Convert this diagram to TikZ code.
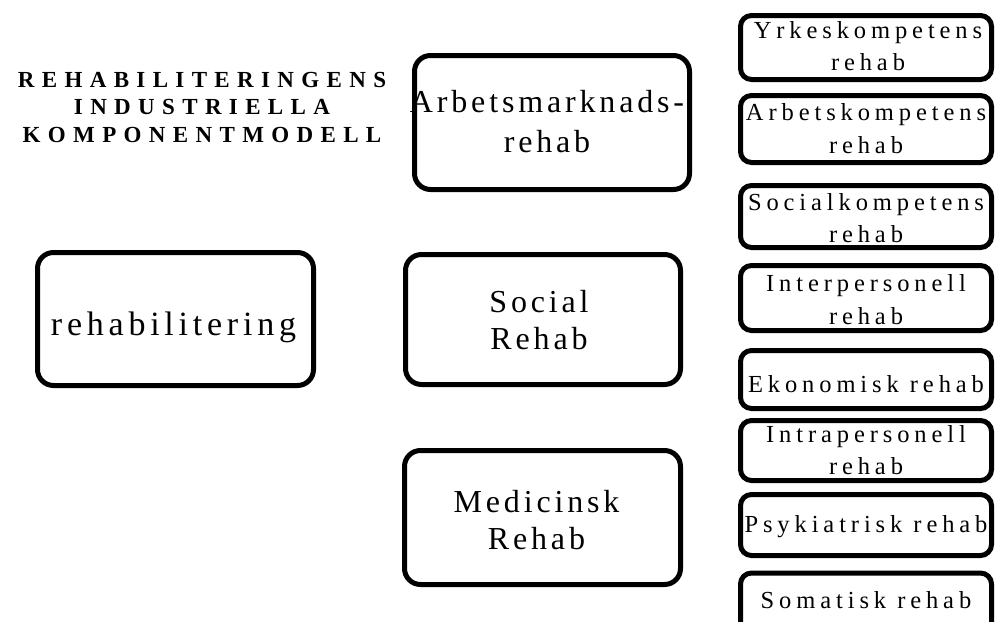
\documentclass[tikz,border=0pt]{standalone}
\usepackage{fontspec}
\setmainfont{Liberation Serif}
\newfontfamily\trackedmain[LetterSpace=14]{Liberation Serif}
\newfontfamily\trackedbig[LetterSpace=12]{Liberation Serif}
\newfontfamily\trackedsmall[LetterSpace=20]{Liberation Serif}
\newfontfamily\trackedtitle[LetterSpace=32]{Liberation Serif}
% text block shifted #1 to the right of the node centre,
% its last baseline #2 below the node centre
\newcommand\boxtext[3]{\raisebox{-#2}[0pt][0pt]{\makebox[0pt]{%
  \hspace*{2\dimexpr#1\relax}\begin{tabular}[b]{@{}c@{}}#3\end{tabular}}}}
\begin{document}
\begin{tikzpicture}[x=1pt,y=-1pt,
  bigbox/.style={draw=black, line width=5pt, rounded corners=16pt, fill=white,
    inner sep=0pt, font=\trackedbig\fontsize{32}{37}\selectfont},
  subbox/.style={draw=black, line width=5pt, rounded corners=11pt, fill=white,
    inner sep=0pt, minimum width=251pt,
    font=\trackedsmall\fontsize{24.5}{32.5}\selectfont},
  heading/.style={inner sep=0pt,
    font=\trackedtitle\bfseries\fontsize{23}{27.5}\selectfont}]
\useasboundingbox (0,0) rectangle (995,621);
\clip (0,0) rectangle (995,621);

% title
\node[heading] (title) at (202,142)
  {\boxtext{0pt}{0pt}{REHABILITERINGENS\\INDUSTRIELLA\\KOMPONENTMODELL}};

% main areas
\node[bigbox, minimum width=276pt, minimum height=133pt,
  font=\trackedmain\fontsize{34}{37}\selectfont] (rehab) at (175.5,319)
  {\boxtext{-2pt}{16pt}{rehabilitering}};
\node[bigbox, minimum width=275pt, minimum height=134pt,
  font=\trackedbig\fontsize{32}{39.5}\selectfont] (arb) at (552,122.5)
  {\boxtext{-5pt}{29.5pt}{Arbetsmarknads-\\rehab}};
\node[bigbox, minimum width=275pt, minimum height=130pt] (soc) at (543,319.5)
  {\boxtext{-4pt}{30pt}{Social\\Rehab}};
\node[bigbox, minimum width=276pt, minimum height=134pt] (med) at (542.5,517.5)
  {\boxtext{-6pt}{32pt}{Medicinsk\\Rehab}};

% component column
\node[subbox, minimum height=64pt] (yrk) at (866,47.5) {\boxtext{2pt}{23pt}{Yrkeskompetens\\rehab}};
\node[subbox, minimum height=67pt] (arbk) at (866,129) {\boxtext{0pt}{24pt}{Arbetskompetens\\rehab}};
\node[subbox, minimum height=62pt] (sock) at (866,216.5) {\boxtext{0pt}{26pt}{Socialkompetens\\rehab}};
\node[subbox, minimum height=65pt] (inter) at (866,298) {\boxtext{0pt}{26pt}{Interpersonell\\rehab}};
\node[subbox, minimum height=58pt] (ekon) at (866,379.5) {\boxtext{0pt}{13pt}{Ekonomisk rehab}};
\node[subbox, minimum height=60pt] (intra) at (866,450.5) {\boxtext{0pt}{24pt}{Intrapersonell\\rehab}};
\node[subbox, minimum height=61pt] (psyk) at (866,525) {\boxtext{0pt}{7pt}{Psykiatrisk rehab}};
\node[subbox, minimum height=84pt] (som) at (866,615) {\boxtext{0pt}{-7pt}{Somatisk rehab}};
\end{tikzpicture}
\end{document}
